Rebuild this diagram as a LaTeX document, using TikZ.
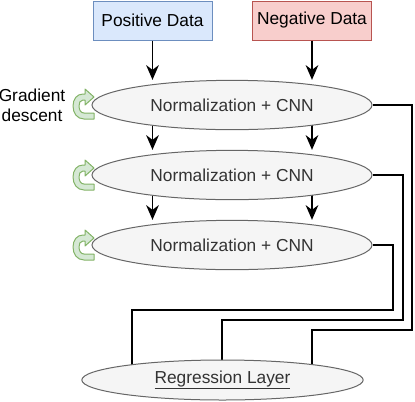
\documentclass[tikz,border=0pt]{standalone}
\usepackage{fontspec}
\setmainfont{Liberation Sans}
\usetikzlibrary{shapes.geometric,arrows.meta,backgrounds}
\definecolor{posfill}{HTML}{DAE8FC}
\definecolor{posline}{HTML}{6C8EBF}
\definecolor{negfill}{HTML}{F8CECC}
\definecolor{negline}{HTML}{B85450}
\definecolor{cnnfill}{HTML}{F5F5F5}
\definecolor{cnnline}{HTML}{666666}
\definecolor{cnntext}{HTML}{333333}
\definecolor{gdfill}{HTML}{D5E8D4}
\definecolor{gdline}{HTML}{82B366}
\tikzset{
	databox/.style={draw, line width=0.75pt, minimum width=89.25pt, minimum height=29.25pt, inner sep=0pt},
	cnn/.style={ellipse, draw=cnnline, fill=cnnfill, text=cnntext, line width=0.75pt, minimum width=210pt, minimum height=37pt, inner sep=0pt},
	flow/.style={-{Stealth[length=11pt,width=9.5pt,inset=3.5pt]}, line width=1.1pt},
	outline/.style={line width=1.1pt},
	gradarrow/.pic={
		\filldraw[draw=gdline, fill=gdfill, line width=0.75pt, line join=round]
		(12,0) -- (21,8) -- (12,16) -- (12,11) -- (10,11)
		.. controls (7,11) and (6,14) .. (6,17)
		.. controls (6,21) and (8,24) .. (11,24) -- (21,24) -- (21,30) -- (11,30)
		.. controls (4,30) and (0,24) .. (0,17)
		.. controls (0,10) and (4,5) .. (10,5) -- (12,5) -- cycle;
	}
}
\begin{document}
\begin{tikzpicture}[x=0.75pt, y=-0.75pt, font=\fontsize{13}{15}\selectfont]
	\useasboundingbox (0,0) rectangle (415,401);
	% inputs
	\node[databox, draw=posline, fill=posfill] (pos) at (152.5,20.5) {Positive Data};
	\node[databox, draw=negline, fill=negfill] (neg) at (312,20.5) {Negative Data};
	% stacked layers
	\node[cnn] (cnn1) at (232,105) {Normalization + CNN};
	\node[cnn] (cnn2) at (232,175) {Normalization + CNN};
	\node[cnn] (cnn3) at (232,245) {Normalization + CNN};
	\node[cnn, minimum width=211pt, minimum height=30pt] (reg) at (222.5,380) {\underline{Regression Layer}};
	\node[align=center] (grad) at (32,105) {Gradient\\descent};
	\pic (gd1) at (73,89) {gradarrow};
	\pic (gd2) at (73,160) {gradarrow};
	\pic (gd3) at (73,230) {gradarrow};
	% turning points of the outputs
	\coordinate (r1) at (412,330);
	\coordinate (r2) at (403,320);
	\coordinate (r3) at (393,310);
	\coordinate (in1) at (312,380);
	\coordinate (in2) at (222,380);
	\coordinate (in3) at (132,380);
	\draw[flow] (pos) -- (pos |- cnn1.north);
	\draw[flow] (neg) -- (neg |- cnn1.north);
	\begin{pgfonlayer}{background}
		\draw[flow] (cnn1.center -| pos) -- (cnn2.north -| pos);
		\draw[flow] (cnn1.center -| neg) -- (cnn2.north -| neg);
		\draw[flow] (cnn2.center -| pos) -- (cnn3.north -| pos);
		\draw[flow] (cnn2.center -| neg) -- (cnn3.north -| neg);
		\draw[outline] (cnn1.east) -| (r1) -| (in1);
		\draw[outline] (cnn2.east) -| (r2) -| (in2);
		\draw[outline] (cnn3.east) -| (r3) -| (in3);
	\end{pgfonlayer}
\end{tikzpicture}
\end{document}
